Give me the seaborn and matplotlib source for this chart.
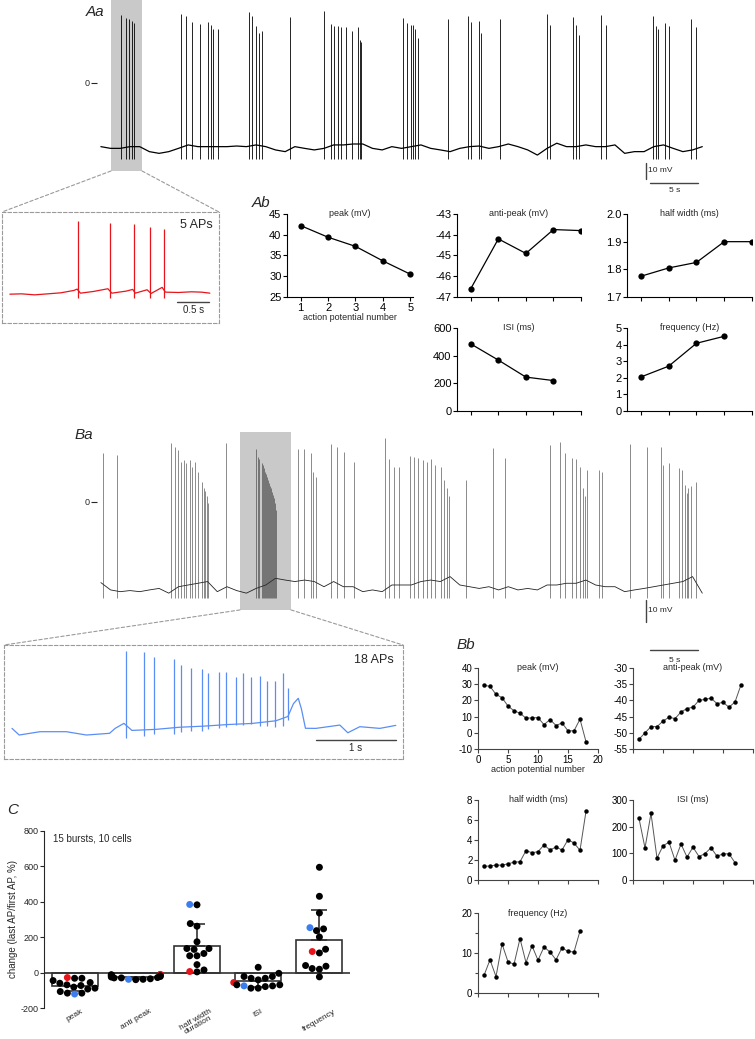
import matplotlib
matplotlib.use("Agg")
import matplotlib.pyplot as plt
from matplotlib.patches import ConnectionPatch
from matplotlib.ticker import MultipleLocator
import numpy as np
import pandas as pd
import seaborn as sns

# ---------------- data ----------------
# Aa: whole-cell trace (red cell), 1 s baseline samples (mV) + spikes
aa_base = [-40.8, -41.9, -41.9, -40.8, -40.8, -44.0, -45.1, -44.0, -41.9, -39.7,
           -40.8, -40.8, -40.8, -40.8, -40.4, -40.8, -39.7, -40.8, -42.9, -44.0,
           -40.8, -41.9, -42.9, -41.9, -39.7, -39.7, -39.1, -39.1, -41.9, -42.9,
           -40.8, -41.9, -40.8, -39.7, -41.9, -42.9, -44.0, -41.9, -40.8, -40.4,
           -41.9, -40.8, -39.1, -40.8, -42.9, -46.2, -41.9, -38.6, -40.8, -40.8,
           -39.7, -40.8, -40.8, -39.7, -45.1, -44.0, -44.0, -40.8, -39.7, -41.9,
           -44.0, -42.9, -40.8]
aa_spike_t = [2.50, 2.99, 3.35, 3.60, 3.82, 8.68, 9.18, 9.82, 10.57, 11.41, 11.71,
              12.01, 12.51, 15.70, 16.00, 16.39, 16.69, 17.04, 19.93, 23.37, 24.17,
              24.46, 24.81, 25.16, 25.71, 26.26, 26.86, 27.10, 27.26, 31.54, 31.94,
              32.33, 32.58, 32.83, 33.13, 36.22, 38.21, 38.56, 39.40, 39.60, 41.55,
              46.38, 46.68, 49.11, 49.36, 49.66, 52.00, 52.51, 57.32, 57.63, 57.83,
              58.58, 58.98, 61.22, 61.77]
aa_spike_v = [43.6, 41.5, 40.8, 39.7, 38.7, 44.0, 43.2, 39.3, 37.8, 39.3, 37.2,
              34.4, 34.4, 45.3, 42.9, 36.5, 32.3, 33.3, 42.1, 46.4, 37.8, 36.5,
              36.5, 35.7, 36.1, 33.5, 35.7, 27.6, 26.5, 41.5, 38.3, 37.2, 37.2,
              34.4, 28.6, 40.8, 42.9, 39.3, 40.0, 32.3, 40.8, 44.2, 37.2, 42.5,
              37.2, 30.8, 43.6, 37.2, 42.9, 36.5, 34.4, 38.3, 36.5, 40.8, 36.1]

# Ab: red burst (5 APs)
ab_n = [1, 2, 3, 4, 5]
ab_peak = [42.2, 39.4, 37.2, 33.7, 30.5]
ab_anti = [-46.6, -44.2, -44.9, -43.75, -43.8]
ab_half = [1.775, 1.805, 1.825, 1.9, 1.9]
ab_isi = [485, 368, 245, 220]
ab_freq = [2.05, 2.7, 4.08, 4.5]

# inset of Aa (red), baseline samples (s, mV)
ia_base_t = [0.12, 0.3, 0.5, 0.7, 0.9, 1.1, 1.15, 1.2, 1.4, 1.62, 1.68, 1.9, 2.0,
             2.04, 2.22, 2.28, 2.45, 2.5, 2.7, 2.9, 3.05, 3.18]
ia_base_v = [-65.5, -65.0, -66.5, -65.0, -63.5, -60.0, -58.0, -64.0, -61.5, -57.5,
             -64.0, -61.0, -58.5, -64.0, -59.0, -64.5, -55.5, -62.5, -63.0, -62.0,
             -62.5, -64.0]
ia_spike_t = [1.16, 1.645, 2.013, 2.258, 2.478]

# Ba: whole-cell trace (blue cell)
ba_base = [-37.5, -40.9, -41.7, -41.2, -41.7, -40.9, -40.2, -42.4, -39.4, -38.6,
           -37.8, -37.0, -41.7, -39.4, -41.2, -42.4, -40.2, -38.6, -35.5, -36.3,
           -37.0, -36.3, -37.0, -39.4, -37.0, -39.4, -39.4, -41.7, -40.9, -41.7,
           -38.6, -38.6, -38.6, -37.0, -36.3, -37.0, -34.7, -38.6, -39.4, -40.2,
           -39.4, -40.9, -39.4, -40.9, -40.2, -40.9, -38.6, -38.6, -37.8, -37.8,
           -36.3, -38.6, -39.4, -39.4, -41.7, -40.9, -40.2, -39.4, -38.6, -37.8,
           -37.0, -34.7, -42.4]
ba_spike_t = [0.66, 2.05, 7.68, 8.03, 8.33, 8.68, 8.93, 9.22, 9.57, 9.82, 10.07,
              10.42, 10.81, 11.02, 11.17, 11.32, 11.42, 13.31, 16.39, 16.62, 16.74,
              16.99, 17.07, 17.20, 17.34, 17.42, 17.55, 17.64, 17.76, 17.85, 17.95,
              18.07, 18.16, 18.26, 18.35, 18.42, 20.73, 21.37, 22.02, 22.27, 22.62,
              24.17, 24.76, 25.51, 26.50, 29.74, 30.14, 30.64, 31.09, 32.24, 32.63,
              33.13, 33.58, 33.98, 34.48, 34.82, 35.42, 35.82, 36.12, 36.32, 38.06,
              40.80, 42.04, 46.68, 47.77, 48.27, 48.92, 49.41, 49.76, 50.11, 50.26,
              50.51, 51.75, 52.10, 54.99, 56.73, 58.13, 58.33, 58.98, 59.97, 60.32,
              60.62, 60.82, 60.97, 61.22, 61.72]
ba_spike_v = [22.6, 21.9, 27.3, 25.7, 24.2, 18.8, 19.5, 18.0, 19.5, 16.4, 18.8,
              14.1, 9.4, 6.4, 5.0, 2.6, -0.6, 27.3, 24.5, 21.1, 19.9, 18.0, 17.2,
              15.6, 14.1, 13.0, 11.8, 10.2, 8.7, 7.4, 6.4, 4.8, 3.3, 1.7, -0.6,
              -3.7, 24.5, 24.5, 22.6, 14.1, 11.8, 26.8, 25.7, 23.4, 18.8, 29.6,
              19.9, 16.4, 16.4, 21.4, 21.1, 20.3, 19.5, 18.8, 19.9, 17.2, 16.4,
              10.2, 6.4, 2.6, 10.2, 24.9, 20.3, 26.5, 28.1, 22.9, 20.3, 19.9, 16.4,
              6.4, 2.6, 14.9, 14.9, 14.1, 26.8, 25.7, 25.7, 17.2, 18.0, 15.6, 14.9,
              8.0, 4.1, 6.4, 7.2, 9.4]

# Bb: blue burst (18 APs)
bb_n = list(range(1, 19))
bb_peak = [29.3, 28.7, 23.7, 21.7, 16.5, 13.6, 12.1, 9.0, 9.2, 9.4, 5.0, 8.2,
           4.5, 6.1, 1.2, 1.2, 8.4, -5.5]
bb_anti = [-52.0, -50.0, -48.1, -48.1, -46.4, -45.2, -45.6, -43.6, -42.5, -42.1,
           -40.0, -39.7, -39.3, -41.0, -40.6, -42.1, -40.5, -35.2]
bb_half = [1.37, 1.4, 1.5, 1.47, 1.63, 1.77, 1.83, 2.93, 2.73, 2.83, 3.5, 3.0,
           3.3, 3.0, 4.03, 3.7, 2.97, 6.87]
bb_isi = [231, 120, 250, 82, 128, 142, 74, 135, 86, 123, 88, 99, 121, 89, 98, 98, 65]
bb_freq = [4.4, 8.3, 4.1, 12.3, 7.8, 7.2, 13.6, 7.6, 11.8, 8.2, 11.5, 10.25, 8.3,
           11.3, 10.4, 10.25, 15.5]

# inset of Ba (blue), baseline samples (s, mV)
ib_base_t = [0.1, 0.19, 0.45, 0.78, 1.03, 1.32, 1.39, 1.5, 1.6, 1.9, 2.2, 2.5,
             2.8, 3.1, 3.4, 3.55, 3.62, 3.68, 3.72, 3.77, 3.9, 4.2, 4.3, 4.45,
             4.7, 4.9]
ib_base_v = [-43.1, -49.3, -46.2, -46.2, -49.3, -47.7, -43.1, -38.4, -45.0, -44.0,
             -42.0, -41.0, -39.5, -38.5, -36.0, -32.0, -20.0, -15.0, -25.0, -43.0,
             -43.1, -40.0, -47.2, -41.5, -43.1, -40.3]
ib_first_t = 1.525

# C: change (last AP / first AP, %), 15 bursts
c_measures = ["peak", "anti peak", "half width\nduration", "ISI", "frequency"]
c_peak = [-32, -32, -45, -28, -69, -56, -60, -73, -82, -88, -93, -116, -107, -121, -116]
c_anti = [-25, -12, -40, -10, -30, -38, -12, -30, -22, -14, -38, -20, -28, -35, -18]
c_half = [385, 383, 277, 262, 174, 136, 136, 131, 108, 95, 95, 45, 4, 15, 6]
c_isi = [-75, -22, -69, -56, -4, -88, -41, -75, 30, -32, -79, -69, -32, -88, -22]
c_freq = [595, 431, 337, 254, 237, 247, 201, 119, 111, 132, 23, 40, 19, 36, -24]
c_red_idx = [3, 3, 14, 3, 7]
c_blue_idx = [13, 5, 0, 0, 3]

RED = "#e8141b"
BLUE = "#5b8ef5"
DOT_BLUE = "#3c7df0"

# ---------------- style ----------------
sns.set_theme(style="ticks")
plt.rcParams["font.family"] = ["Liberation Sans", "DejaVu Sans"]
plt.rcParams["axes.unicode_minus"] = False
plt.rcParams["axes.linewidth"] = 0.8

W, H = 755, 1039
fig = plt.figure(figsize=(W / 100, H / 100), dpi=100)


def add_ax(l, t, r, b):
    # axes placed by pixel box of the reference
    return fig.add_axes([l / W, 1 - b / H, (r - l) / W, (b - t) / H])


def panel_label(x, y, s):
    fig.text(x / W, 1 - y / H, s, fontsize=11, style="italic", va="center", ha="left")


def trace_axes(ax, ylim, xlim):
    ax.set_xlim(*xlim)
    ax.set_ylim(*ylim)
    for sp in ax.spines.values():
        sp.set_visible(False)
    ax.set_xticks([])
    ax.set_yticks([0])
    ax.set_yticklabels(["0"])
    ax.tick_params(axis="y", length=4, width=0.8, labelsize=6.5, pad=1)
    ax.set_facecolor("none")


def inset_axes(ax):
    ax.set_xticks([])
    ax.set_yticks([])
    for sp in ax.spines.values():
        sp.set_visible(True)
        sp.set_linestyle((0, (3, 2)))
        sp.set_color("#9a9a9a")
        sp.set_linewidth(0.8)


def scalebars(ax, x0, y0, ybar, xbar, ytxt_y, xtxt_y, fs=6):
    ax.plot([x0 - 0.4, x0 - 0.4], [y0, y0 + ybar], color="#444", lw=1.0, clip_on=False)
    ax.text(x0 - 0.2, y0 + ybar / 2, "10 mV", fontsize=fs, va="center", ha="left")
    ax.plot([x0, x0 + xbar], [ytxt_y, ytxt_y], color="#444", lw=1.0, clip_on=False)
    ax.text(x0 + xbar / 2, xtxt_y, "5 s", fontsize=fs, va="center", ha="center")


def small_plot(ax, x, y, title, ylim, yticks, xlim, xticks, lw, ms, color, fs, tfs,
               spine_color, fmt=None):
    sns.lineplot(x=x, y=y, ax=ax, color=color, linewidth=lw, marker="o",
                 markersize=ms, markeredgewidth=0, markerfacecolor="black")
    ax.set_xlim(*xlim)
    ax.set_ylim(*ylim)
    ax.set_yticks(yticks)
    if fmt:
        ax.set_yticklabels([fmt % v for v in yticks])
    ax.set_xticks(xticks)
    ax.set_xticklabels([])
    ax.tick_params(length=3, width=0.8, labelsize=fs, pad=1, colors=spine_color,
                   labelcolor="black")
    for s in ["left", "bottom"]:
        ax.spines[s].set_color(spine_color)
    sns.despine(ax=ax)
    ax.set_xlabel("")
    ax.set_ylabel("")
    ax.text(0.5, 1.0, title, transform=ax.transAxes, fontsize=tfs, ha="center", va="center")
    ax.set_facecolor("none")


# ---------------- Aa ----------------
ax_aa = add_ax(97, 0, 705, 200)
trace_axes(ax_aa, (-75.0, 53.2), (0, 62.68))
aa_box = (1.44, 4.64, -56.4, 53.2)
ax_aa.fill_between([aa_box[0], aa_box[1]], aa_box[2], aa_box[3], color="#c9c9c9",
                   lw=0, zorder=0)
aa_t = np.arange(len(aa_base)) + 0.4
sns.lineplot(x=aa_t, y=aa_base, ax=ax_aa, color="black", linewidth=0.9)
ax_aa.vlines(aa_spike_t, -48.5, aa_spike_v, color="black", linewidth=0.6)
scalebars(ax_aa, 57.0, -61.3, 10, 5, -64.1, -69.2)
ax_aa.set_xlabel("")
panel_label(86, 12, "Aa")

# inset Aa (red)
ax_ia = add_ax(2, 212, 219, 323)
inset_axes(ax_ia)
ax_ia.set_xlim(0, 3.32)
ax_ia.set_ylim(-107.9, 55.4)
sns.lineplot(x=ia_base_t, y=ia_base_v, ax=ax_ia, color=RED, linewidth=0.9)
ax_ia.vlines(ia_spike_t, -71, ab_peak, color=RED, linewidth=0.9)
ax_ia.plot([2.68, 3.17], [-77, -77], color="#444", lw=1.0)
ax_ia.text(2.925, -89, "0.5 s", fontsize=7, ha="center", va="center")
ax_ia.text(3.23, 36.3, "5 APs", fontsize=9, ha="right", va="center")
ax_ia.set_xlabel("")
ax_ia.set_ylabel("")
for xa, xb in [(aa_box[0], 0), (aa_box[1], 1)]:
    con = ConnectionPatch(xyA=(xa, aa_box[2]), coordsA=ax_aa.transData,
                          xyB=(xb, 1), coordsB=ax_ia.transAxes,
                          color="#9a9a9a", lw=0.8, linestyle=(0, (3, 2)))
    fig.add_artist(con)

# ---------------- Ab ----------------
panel_label(252, 203, "Ab")
kw_a = dict(lw=0.9, ms=4.5, color="black", fs=8, tfs=6.5, spine_color="black")
ax = add_ax(287, 214, 413, 297)
small_plot(ax, ab_n, ab_peak, "peak (mV)", (25, 45), [25, 30, 35, 40, 45],
           (0.5, 5.1), ab_n, **kw_a)
ax.set_xticklabels([str(v) for v in ab_n])
ax.set_xlabel("action potential number", fontsize=6.5, labelpad=0)
ax = add_ax(457, 214, 581, 297)
small_plot(ax, ab_n, ab_anti, "anti-peak (mV)", (-47, -43), [-47, -46, -45, -44, -43],
           (0.5, 5.0), ab_n, **kw_a)
ax = add_ax(627, 214, 752, 297)
small_plot(ax, ab_n, ab_half, "half width (ms)", (1.7, 2.0), [1.7, 1.8, 1.9, 2.0],
           (0.5, 5.0), ab_n, fmt="%.1f", **kw_a)
ax = add_ax(457, 328, 581, 411)
small_plot(ax, ab_n[:4], ab_isi, "ISI (ms)", (0, 600), [0, 200, 400, 600],
           (0.5, 5.0), ab_n, **kw_a)
ax = add_ax(627, 328, 752, 411)
small_plot(ax, ab_n[:4], ab_freq, "frequency (Hz)", (0, 5), [0, 1, 2, 3, 4, 5],
           (0.5, 5.0), ab_n, **kw_a)

# ---------------- Ba ----------------
ax_ba = add_ax(97, 428, 705, 668)
trace_axes(ax_ba, (-77.2, 34.4), (0, 62.68))
ba_box = (14.74, 20.0, -50.2, 32.6)
ax_ba.fill_between([ba_box[0], ba_box[1]], ba_box[2], ba_box[3], color="#c9c9c9",
                   lw=0, zorder=0)
ba_t = np.arange(len(ba_base)) + 0.4
sns.lineplot(x=ba_t, y=ba_base, ax=ax_ba, color="#222222", linewidth=0.6)
ax_ba.vlines(ba_spike_t, -44.5, ba_spike_v, color="#333333", linewidth=0.4)
scalebars(ax_ba, 57.0, -55.6, 10, 5, -68.8, -73.5)
ax_ba.set_xlabel("")
panel_label(75, 435, "Ba")

# inset Ba (blue)
ax_ib = add_ax(4, 645, 403, 759)
inset_axes(ax_ib)
ax_ib.set_xlim(0, 4.99)
ax_ib.set_ylim(-71.7, 34.8)
sns.lineplot(x=ib_base_t, y=ib_base_v, ax=ax_ib, color=BLUE, linewidth=0.9)
ib_spike_t = ib_first_t + np.concatenate([[0], np.cumsum(bb_isi) / 1000.0])
ax_ib.vlines(ib_spike_t, bb_anti, bb_peak, color=BLUE, linewidth=0.9)
ax_ib.plot([3.9, 4.9], [-54.0, -54.0], color="#444", lw=1.0)
ax_ib.text(4.4, -61.5, "1 s", fontsize=7, ha="center", va="center")
ax_ib.text(4.875, 20.8, "18 APs", fontsize=9, ha="right", va="center")
ax_ib.set_xlabel("")
ax_ib.set_ylabel("")
for xa, xb in [(ba_box[0], 0), (ba_box[1], 1)]:
    con = ConnectionPatch(xyA=(xa, ba_box[2]), coordsA=ax_ba.transData,
                          xyB=(xb, 1), coordsB=ax_ib.transAxes,
                          color="#9a9a9a", lw=0.8, linestyle=(0, (3, 2)))
    fig.add_artist(con)

# ---------------- Bb ----------------
panel_label(457, 645, "Bb")
kw_b = dict(lw=0.7, ms=3.2, color="#555555", fs=7, tfs=6.5, spine_color="#444444")
bx = [0, 5, 10, 15, 20]
ax = add_ax(478, 668, 598, 749)
small_plot(ax, bb_n, bb_peak, "peak (mV)", (-10, 40), [-10, 0, 10, 20, 30, 40],
           (0, 20), bx, **kw_b)
ax.set_xticklabels([str(v) for v in bx])
ax.set_xlabel("action potential number", fontsize=6.5, labelpad=0)
ax = add_ax(633, 668, 753, 749)
small_plot(ax, bb_n, bb_anti, "anti-peak (mV)", (-55, -30),
           [-55, -50, -45, -40, -35, -30], (0, 20), bx, **kw_b)
ax = add_ax(478, 800, 598, 880)
small_plot(ax, bb_n, bb_half, "half width (ms)", (0, 8), [0, 2, 4, 6, 8],
           (0, 20), bx, **kw_b)
ax = add_ax(633, 800, 753, 880)
small_plot(ax, bb_n[:17], bb_isi, "ISI (ms)", (0, 300), [0, 100, 200, 300],
           (0, 20), bx, **kw_b)
ax = add_ax(478, 913, 598, 993)
small_plot(ax, bb_n[:17], bb_freq, "frequency (Hz)", (0, 20), [0, 10, 20],
           (0, 20), bx, **kw_b)
ax.yaxis.set_minor_locator(MultipleLocator(5))
ax.tick_params(axis="y", which="minor", length=2, width=0.8, colors="#444444")

# ---------------- C ----------------
panel_label(7, 810, "C")
rows = []
for m, vals, ri, bi in zip(c_measures, [c_peak, c_anti, c_half, c_isi, c_freq],
                           c_red_idx, c_blue_idx):
    for i, v in enumerate(vals):
        cell = "red" if i == ri else ("blue" if i == bi else "other")
        rows.append({"measure": m, "value": v, "cell": cell})
df_c = pd.DataFrame(rows)

ax_c = add_ax(44, 831, 350, 1008)
sns.barplot(data=df_c, x="measure", y="value", order=c_measures, errorbar=None,
            fill=False, color="#333333", linewidth=1.2, width=0.75, ax=ax_c)
stats = df_c.groupby("measure", sort=False)["value"].agg(["mean", "std"]).reindex(c_measures)
lower = np.where(stats["mean"] < 0, stats["std"], 0)
upper = np.where(stats["mean"] > 0, stats["std"], 0)
ax_c.errorbar(np.arange(len(c_measures)), stats["mean"], yerr=[lower, upper], fmt="none",
              ecolor="#333333", elinewidth=1.2, capsize=5.5, capthick=1.2)
sns.swarmplot(data=df_c, x="measure", y="value", order=c_measures, hue="cell",
              hue_order=["other", "red", "blue"],
              palette={"other": "black", "red": RED, "blue": DOT_BLUE},
              size=5, legend=False, warn_thresh=1.0, ax=ax_c)
ax_c.axhline(0, color="#333333", lw=1.2, zorder=0.5)
ax_c.set_xlim(-0.5, 4.5)
ax_c.set_ylim(-200, 800)
ax_c.set_yticks([-200, 0, 200, 400, 600, 800])
ax_c.tick_params(axis="y", length=3, width=0.8, labelsize=6.5, pad=1)
ax_c.tick_params(axis="x", length=0, labelsize=6, pad=0)
for lab in ax_c.get_xticklabels():
    lab.set_rotation(30)
    lab.set_ha("center")
    lab.set_va("top")
    lab.set_linespacing(0.85)
sns.despine(ax=ax_c, bottom=True)
ax_c.set_xlabel("")
ax_c.set_ylabel("change (last AP/first AP, %)", fontsize=7, labelpad=2)
ax_c.text(0.03, 0.96, "15 bursts, 10 cells", transform=ax_c.transAxes, fontsize=7,
          ha="left", va="center")
ax_c.set_facecolor("none")

fig.savefig("out.png", dpi=100)
